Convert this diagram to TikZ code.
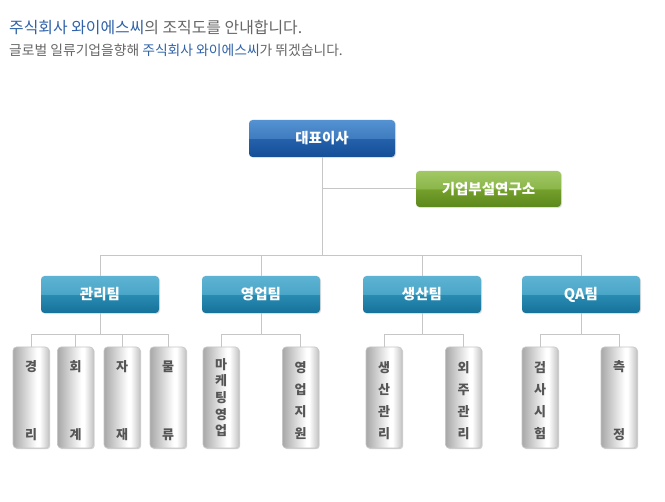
\documentclass[tikz,border=0pt]{standalone}
\usepackage{fontspec}
\setmainfont{Noto Sans CJK KR}
\usetikzlibrary{shadows}
\definecolor{tblue}{HTML}{2F62A8}
\definecolor{tgray}{HTML}{666666}
\definecolor{linegray}{HTML}{C6C6C6}
\definecolor{subtext}{HTML}{555555}
\definecolor{ceoT1}{HTML}{5592D2}
\definecolor{ceoT2}{HTML}{3F7CC0}
\definecolor{ceoB1}{HTML}{2462AA}
\definecolor{ceoB2}{HTML}{154F98}
\definecolor{resT1}{HTML}{A2C864}
\definecolor{resT2}{HTML}{8AB64A}
\definecolor{resB1}{HTML}{75A02C}
\definecolor{resB2}{HTML}{5C881C}
\definecolor{teamT1}{HTML}{5DB3D3}
\definecolor{teamT2}{HTML}{4AA6C8}
\definecolor{teamB1}{HTML}{2A8CB2}
\definecolor{teamB2}{HTML}{16729A}
\definecolor{subL}{HTML}{A8A8A8}
\definecolor{subR}{HTML}{C4C4C4}
\pgfdeclareverticalshading{ceosh}{100bp}{color(0bp)=(ceoB2); color(25bp)=(ceoB2); color(50bp)=(ceoB1); color(50.2bp)=(ceoT2); color(75bp)=(ceoT1); color(100bp)=(ceoT1)}
\pgfdeclareverticalshading{ressh}{100bp}{color(0bp)=(resB2); color(25bp)=(resB2); color(50bp)=(resB1); color(50.2bp)=(resT2); color(75bp)=(resT1); color(100bp)=(resT1)}
\pgfdeclareverticalshading{teamsh}{100bp}{color(0bp)=(teamB2); color(25bp)=(teamB2); color(50bp)=(teamB1); color(50.2bp)=(teamT2); color(75bp)=(teamT1); color(100bp)=(teamT1)}
\pgfdeclarehorizontalshading{subsh}{100bp}{color(0bp)=(subL); color(25bp)=(subL); color(58bp)=(white); color(62bp)=(white); color(75bp)=(subR); color(100bp)=(subR)}
\newcommand\tallfirst{\rule{0pt}{17pt}}
\tikzset{
  conn/.style={draw=linegray, line width=1pt},
  headbox/.style={rounded corners=3.5pt, inner sep=0pt, text=white,
    font=\fontsize{14.5}{17}\selectfont\bfseries,
    drop shadow={shadow xshift=1pt, shadow yshift=-1pt, opacity=0.25}},
  ceobox/.style={headbox, shading=ceosh, minimum width=146pt, minimum height=37pt},
  resbox/.style={headbox, shading=ressh, minimum width=145pt, minimum height=36pt},
  teambox/.style={headbox, shading=teamsh, minimum width=118pt, minimum height=37pt},
  subbox/.style={rounded corners=3.5pt, inner sep=0pt, shading=subsh, draw=linegray,
    line width=0.6pt, minimum width=36pt, minimum height=101pt, align=center,
    text=subtext, font=\fontsize{13}{16}\selectfont\bfseries,
    drop shadow={shadow xshift=1.2pt, shadow yshift=-1.2pt, opacity=0.35}},
  title/.style={anchor=west, inner sep=0pt, text=tgray}
}
\begin{document}
\begin{tikzpicture}[x=1pt, y=-1pt]
\fill[white] (0,0) rectangle (665,502);
\useasboundingbox (0,0) rectangle (665,502);
% titles
\node[title, font=\fontsize{15.9}{18}\selectfont] (line1) at (9,27.5) {\textcolor{tblue}{주식회사 와이에스씨}의 조직도를 안내합니다.};
\node[title, font=\fontsize{13.8}{16}\selectfont] (line2) at (9,50.5) {글로벌 일류기업을향해 \textcolor{tblue}{주식회사 와이에스씨}가 뛰겠습니다.};
% top level
\node[ceobox] (ceo) at (322,138.5) {대표이사};
\node[resbox] (res) at (488.5,189) {기업부설연구소};
% teams
\node[teambox] (tm1) at (100,294.5) {관리팀};
\node[teambox] (tm2) at (261,294.5) {영업팀};
\node[teambox] (tm3) at (422,294.5) {생산팀};
\node[teambox] (tm4) at (581,294.5) {QA팀};
% sub units
\node[subbox] (s11) at (31,397.5) {\tallfirst 경\\[52pt]리};
\node[subbox] (s12) at (75.5,397.5) {\tallfirst 회\\[52pt]계};
\node[subbox] (s13) at (122,397.5) {\tallfirst 자\\[52pt]재};
\node[subbox] (s14) at (168,397.5) {\tallfirst 물\\[52pt]류};
\node[subbox] (s21) at (221,397.5) {마\\[0.7pt]케\\[0.7pt]팅\\[0.7pt]영\\[0.7pt]업};
\node[subbox] (s22) at (300.5,397.5) {\tallfirst 영\\[6pt]업\\[6pt]지\\[6pt]원};
\node[subbox] (s31) at (384,397.5) {\tallfirst 생\\[6pt]산\\[6pt]관\\[6pt]리};
\node[subbox] (s32) at (463.5,397.5) {\tallfirst 외\\[6pt]주\\[6pt]관\\[6pt]리};
\node[subbox] (s41) at (540,397.5) {\tallfirst 검\\[6pt]사\\[6pt]시\\[6pt]험};
\node[subbox] (s42) at (619,397.5) {\tallfirst 측\\[52pt]정};
% connector hubs
\coordinate (bus) at (322,256);
\coordinate (b1) at (100,335);
\coordinate (b2) at (261,335);
\coordinate (b3) at (422,335);
\coordinate (b4) at (581,335);
\draw[conn] (ceo.south) -- (bus);
\draw[conn] (ceo.south |- res.west) -- (res.west);
\foreach \t in {tm1,tm2,tm3,tm4} { \draw[conn] (bus) -| (\t.north); }
\draw[conn] (tm1.south) -- (b1);
\draw[conn] (tm2.south) -- (b2);
\draw[conn] (tm3.south) -- (b3);
\draw[conn] (tm4.south) -- (b4);
\foreach \s in {s11,s12,s13,s14} { \draw[conn] (b1) -| (\s.north); }
\foreach \s in {s21,s22} { \draw[conn] (b2) -| (\s.north); }
\foreach \s in {s31,s32} { \draw[conn] (b3) -| (\s.north); }
\foreach \s in {s41,s42} { \draw[conn] (b4) -| (\s.north); }
\end{tikzpicture}
\end{document}
